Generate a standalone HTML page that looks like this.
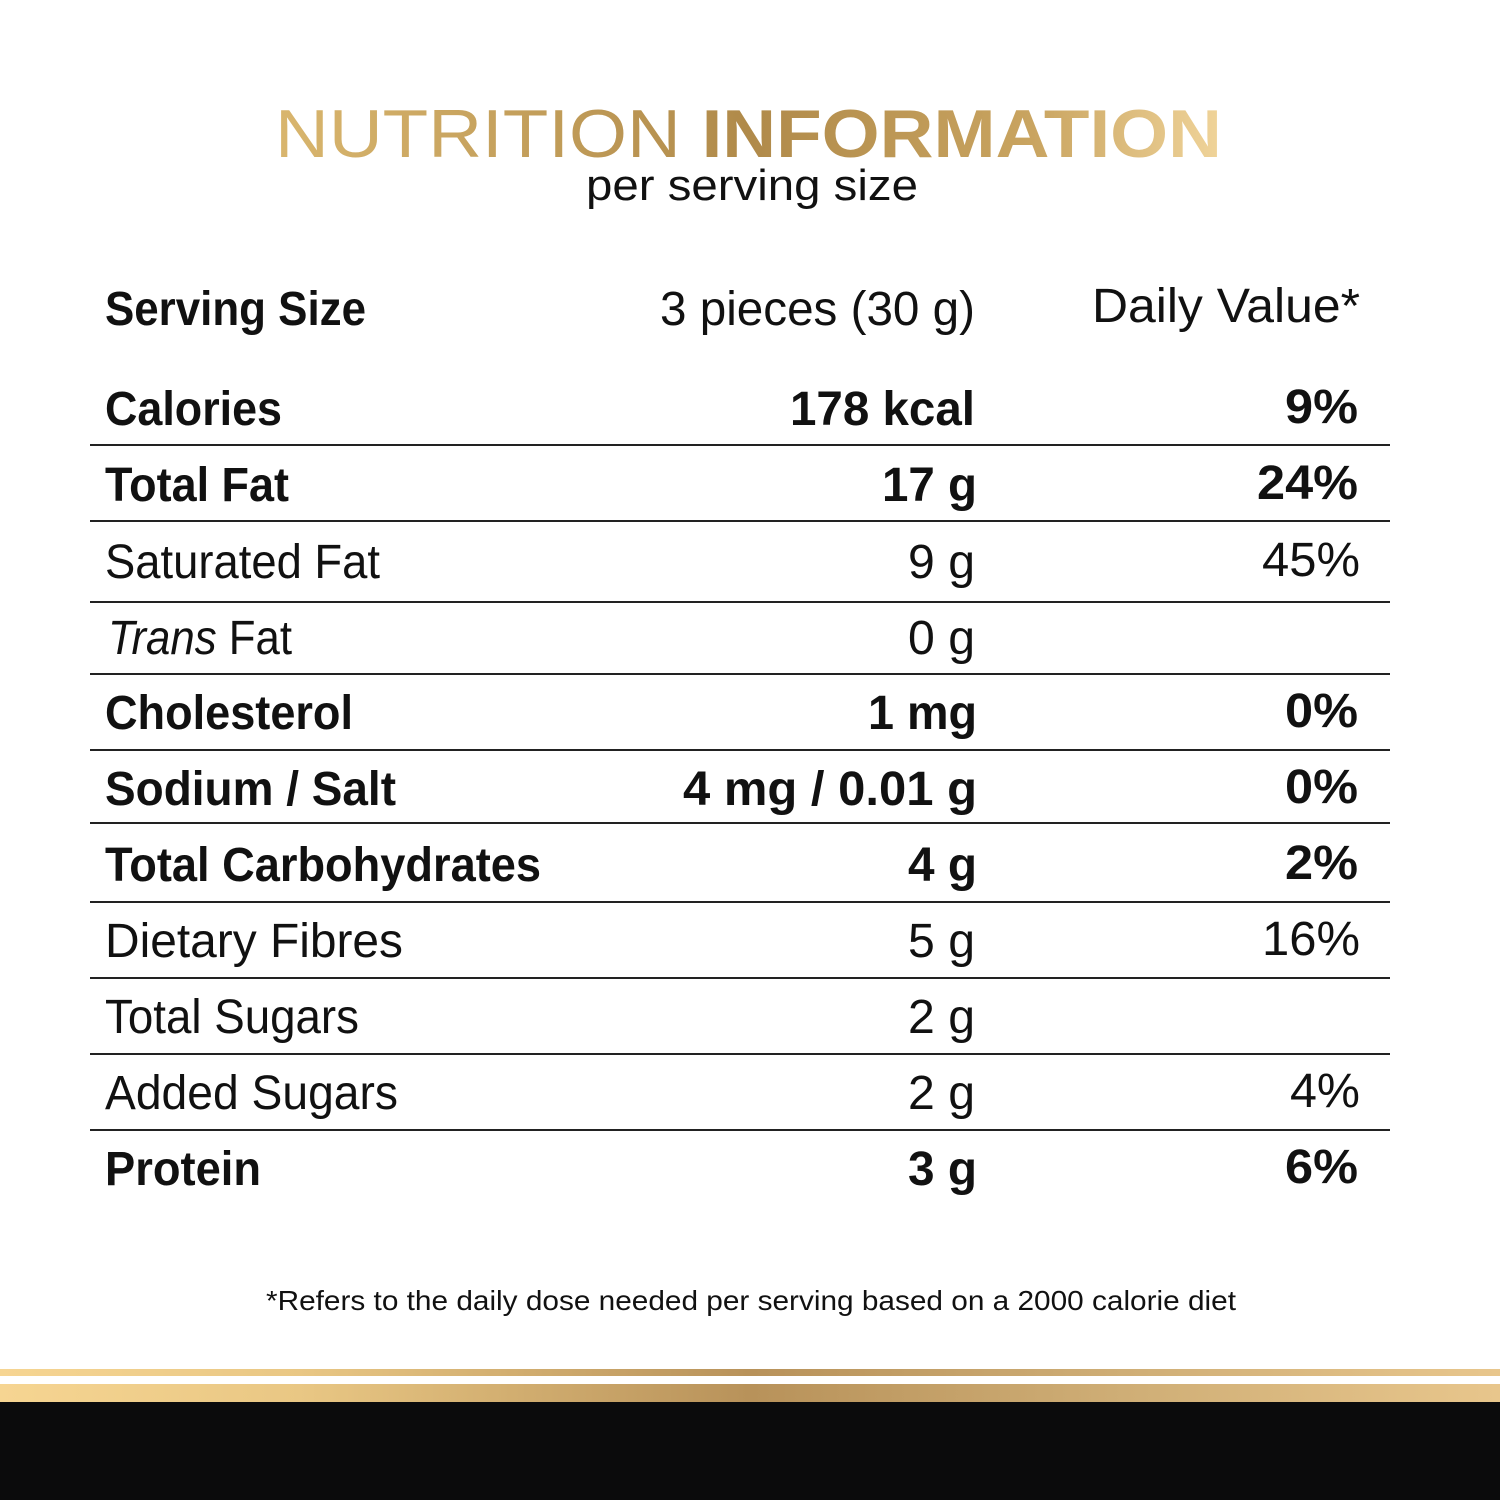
<!DOCTYPE html>
<html><head><meta charset="utf-8"><style>
html,body{margin:0;padding:0;background:#fff;width:1500px;height:1500px;overflow:hidden}
svg{display:block}
text{font-family:"Liberation Sans",sans-serif;fill:#111}
.b{font-weight:bold}
.r{font-size:48px}
</style></head><body>
<svg width="1500" height="1500" viewBox="0 0 1500 1500" xmlns="http://www.w3.org/2000/svg">
<defs>
<linearGradient id="gt" x1="275" x2="1222" y1="0" y2="0" gradientUnits="userSpaceOnUse">
<stop offset="0" stop-color="#d9b66e"/><stop offset="0.5" stop-color="#b08a4a"/><stop offset="0.8" stop-color="#c9a460"/><stop offset="1" stop-color="#f0d49a"/>
</linearGradient>
<linearGradient id="gb" x1="0" x2="1500" y1="0" y2="0" gradientUnits="userSpaceOnUse">
<stop offset="0" stop-color="#f6d592"/><stop offset="0.2" stop-color="#e9c784"/><stop offset="0.5" stop-color="#b8925a"/><stop offset="0.75" stop-color="#cfae76"/><stop offset="1" stop-color="#e8c68c"/>
</linearGradient>
</defs>
<rect width="1500" height="1500" fill="#fff"/>
<text x="275" y="157" font-size="68" fill="url(#gt)" style="fill:url(#gt)" textLength="947" lengthAdjust="spacingAndGlyphs"><tspan>NUTRITION </tspan><tspan font-weight="bold">INFORMATION</tspan></text>
<text x="586" y="200" font-size="44" textLength="332" lengthAdjust="spacingAndGlyphs">per serving size</text>

<g class="r">
<text class="b r" x="105" y="325" textLength="261" lengthAdjust="spacingAndGlyphs">Serving Size</text>
<text class="r" x="660" y="325" textLength="315" lengthAdjust="spacingAndGlyphs">3 pieces (30 g)</text>
<text class="r" x="1092" y="322" textLength="268" lengthAdjust="spacingAndGlyphs">Daily Value*</text>

<text class="b r" x="105" y="425" textLength="177" lengthAdjust="spacingAndGlyphs">Calories</text>
<text class="b r" x="790" y="425" textLength="185" lengthAdjust="spacingAndGlyphs">178 kcal</text>
<text class="b r" x="1285" y="423" textLength="73" lengthAdjust="spacingAndGlyphs">9%</text>

<text class="b r" x="105" y="501" textLength="184" lengthAdjust="spacingAndGlyphs">Total Fat</text>
<text class="b r" x="882" y="501" textLength="95" lengthAdjust="spacingAndGlyphs">17 g</text>
<text class="b r" x="1257" y="499" textLength="101" lengthAdjust="spacingAndGlyphs">24%</text>

<text class="r" x="105" y="578" textLength="275" lengthAdjust="spacingAndGlyphs">Saturated Fat</text>
<text class="r" x="908" y="578" textLength="67" lengthAdjust="spacingAndGlyphs">9 g</text>
<text class="r" x="1262" y="576" textLength="98" lengthAdjust="spacingAndGlyphs">45%</text>

<text class="r" x="108" y="654" textLength="184" lengthAdjust="spacingAndGlyphs"><tspan font-style="italic">Trans</tspan> Fat</text>
<text class="r" x="908" y="654" textLength="67" lengthAdjust="spacingAndGlyphs">0 g</text>

<text class="b r" x="105" y="729" textLength="248" lengthAdjust="spacingAndGlyphs">Cholesterol</text>
<text class="b r" x="868" y="729" textLength="109" lengthAdjust="spacingAndGlyphs">1 mg</text>
<text class="b r" x="1285" y="727" textLength="73" lengthAdjust="spacingAndGlyphs">0%</text>

<text class="b r" x="105" y="805" textLength="291" lengthAdjust="spacingAndGlyphs">Sodium / Salt</text>
<text class="b r" x="683" y="805" textLength="294" lengthAdjust="spacingAndGlyphs">4 mg / 0.01 g</text>
<text class="b r" x="1285" y="803" textLength="73" lengthAdjust="spacingAndGlyphs">0%</text>

<text class="b r" x="105" y="881" textLength="436" lengthAdjust="spacingAndGlyphs">Total Carbohydrates</text>
<text class="b r" x="908" y="881" textLength="69" lengthAdjust="spacingAndGlyphs">4 g</text>
<text class="b r" x="1285" y="879" textLength="73" lengthAdjust="spacingAndGlyphs">2%</text>

<text class="r" x="105" y="957" textLength="298" lengthAdjust="spacingAndGlyphs">Dietary Fibres</text>
<text class="r" x="908" y="957" textLength="67" lengthAdjust="spacingAndGlyphs">5 g</text>
<text class="r" x="1262" y="955" textLength="98" lengthAdjust="spacingAndGlyphs">16%</text>

<text class="r" x="105" y="1033" textLength="254" lengthAdjust="spacingAndGlyphs">Total Sugars</text>
<text class="r" x="908" y="1033" textLength="67" lengthAdjust="spacingAndGlyphs">2 g</text>

<text class="r" x="105" y="1109" textLength="293" lengthAdjust="spacingAndGlyphs">Added Sugars</text>
<text class="r" x="908" y="1109" textLength="67" lengthAdjust="spacingAndGlyphs">2 g</text>
<text class="r" x="1290" y="1107" textLength="70" lengthAdjust="spacingAndGlyphs">4%</text>

<text class="b r" x="105" y="1185" textLength="156" lengthAdjust="spacingAndGlyphs">Protein</text>
<text class="b r" x="908" y="1185" textLength="69" lengthAdjust="spacingAndGlyphs">3 g</text>
<text class="b r" x="1285" y="1183" textLength="73" lengthAdjust="spacingAndGlyphs">6%</text>
</g>

<g stroke="#222" stroke-width="2">
<line x1="90" x2="1390" y1="445" y2="445"/>
<line x1="90" x2="1390" y1="521" y2="521"/>
<line x1="90" x2="1390" y1="602" y2="602"/>
<line x1="90" x2="1390" y1="674" y2="674"/>
<line x1="90" x2="1390" y1="750" y2="750"/>
<line x1="90" x2="1390" y1="823" y2="823"/>
<line x1="90" x2="1390" y1="902" y2="902"/>
<line x1="90" x2="1390" y1="978" y2="978"/>
<line x1="90" x2="1390" y1="1054" y2="1054"/>
<line x1="90" x2="1390" y1="1130" y2="1130"/>
</g>

<text x="266" y="1310" font-size="28" textLength="970" lengthAdjust="spacingAndGlyphs">*Refers to the daily dose needed per serving based on a 2000 calorie diet</text>

<rect x="0" y="1369" width="1500" height="7" fill="url(#gb)"/>
<rect x="0" y="1384" width="1500" height="18" fill="url(#gb)"/>
<rect x="0" y="1402" width="1500" height="98" fill="#0b0b0c"/>
</svg>
</body></html>
